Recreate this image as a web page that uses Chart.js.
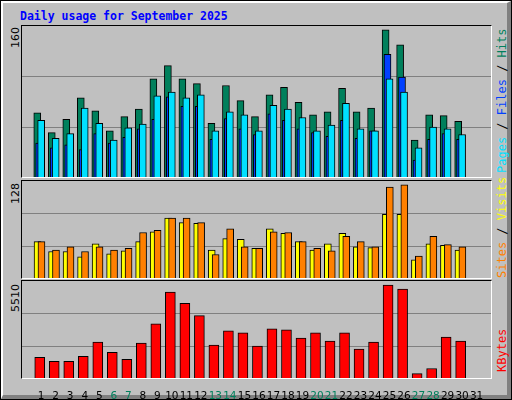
<!DOCTYPE html>
<html><head><meta charset="utf-8">
<script src="https://cdn.jsdelivr.net/npm/chart.js@4"></script>
<style>
body{margin:0;background:#fff;}
#wrap{position:absolute;left:0;top:0;width:510px;height:398px;background:#C0C0C0;border:1px solid #000;}
#wrap:before{content:"";position:absolute;left:0;top:0;right:0;bottom:0;border-top:2px solid #fff;border-left:2px solid #fff;border-right:4px solid #808080;border-bottom:4px solid #808080;}
.title{position:absolute;left:19px;top:8px;font:bold 11.5px "DejaVu Sans Mono",monospace;color:#0000FF;}
.pan{position:absolute;left:20px;width:471px;border-top:1px solid #000;border-left:1px solid #000;border-right:1px solid #fff;border-bottom:1px solid #fff;box-sizing:border-box;}
canvas{position:absolute;}
.rot{position:absolute;transform-origin:0 0;transform:rotate(-90deg);font:12px "DejaVu Sans Mono",monospace;white-space:nowrap;}
.lab{font:11px "DejaVu Sans",sans-serif;}
</style></head><body>
<div id="wrap">
<div class="title">Daily usage for September 2025</div>
<div class="pan" style="top:24px;height:153px"></div>
<div class="pan" style="top:179px;height:99px"></div>
<div class="pan" style="top:279px;height:99px"></div>
<canvas id="c1" style="left:21px;top:25px;width:469px;height:151px"></canvas>
<canvas id="c2" style="left:21px;top:180px;width:469px;height:97px"></canvas>
<canvas id="c3" style="left:21px;top:280px;width:469px;height:118px"></canvas>
<div class="rot lab" style="left:8px;top:47px">160</div>
<div class="rot lab" style="left:8px;top:203px">128</div>
<div class="rot lab" style="left:8px;top:311px">5510</div>
<div class="rot" style="left:494px;top:172px"><span style="color:#00E0FF">Pages</span> / <span style="color:#0040FF">Files</span> / <span style="color:#00805C">Hits</span></div>
<div class="rot" style="left:494px;top:277px"><span style="color:#FF8000">Sites</span> / <span style="color:#FFFF00">Visits</span></div>
<div class="rot" style="left:494px;top:371px"><span style="color:#FF0000">KBytes</span></div>
</div>
<script>
const days = Array.from({length:31},(_,i)=>i+1);
const weekend = [6,7,13,14,20,21,27,28];
const hits  = [68,47,61,84,70,49,64,72,104,118,104,99,57,97,81,64,87,95,79,66,69,94,69,73,156,140,39,66,65,59,0];
const files = [36,31,34,29,46,36,42,51,61,85,75,75,40,62,51,45,67,60,51,47,43,60,41,49,130,106,18,40,46,40,0];
const pages = [60,41,46,73,57,39,52,56,86,90,84,87,49,69,66,49,76,72,63,49,55,78,51,49,104,90,31,53,51,45,0];
const visits= [48,35,35,28,45,32,36,48,61,79,73,72,37,52,51,39,65,59,48,37,45,59,41,40,84,84,24,45,43,37,0];
const sites = [48,37,41,35,41,37,39,60,63,79,79,73,31,65,41,39,61,60,48,39,36,55,48,41,120,123,29,55,44,41,0];
const kbytes= [1175,944,944,1233,2042,1464,1060,1984,3083,4874,4239,3545,1869,2678,2562,1811,2793,2736,2273,2562,2100,2562,1638,2042,5279,5048,250,539,2331,2100,0];
const maxTop=160, maxMid=128, maxBot=5510;

const XMIN=0.2, XMAX=31.47;
function pts(arr,off){return arr.map((v,i)=>({x:days[i]+off,y:v}));}
function ds(arr,off,color,w,order){return {data:pts(arr,off),backgroundColor:color,borderColor:'#000',borderWidth:1,borderSkipped:'bottom',barThickness:w,grouped:false,order:order};}
const gridPlugin={id:'g',beforeDatasetsDraw(ch){
  const y=ch.scales.y,a=ch.chartArea,ctx=ch.ctx;ctx.save();ctx.strokeStyle='#808080';ctx.lineWidth=1;
  [y.max/3,2*y.max/3].forEach(v=>{const p=Math.round(y.getPixelForValue(v))+0.5;ctx.beginPath();ctx.moveTo(a.left,p);ctx.lineTo(a.right,p);ctx.stroke();});
  ctx.restore();}};
function opts(max,showX){
 const x={type:'linear',min:XMIN,max:XMAX,display:showX,
      grid:{display:false},border:{display:false},
      afterBuildTicks:s=>{s.ticks=days.map(d=>({value:d}));},
      ticks:{autoSkip:false,maxRotation:0,padding:4,font:{family:'DejaVu Sans',size:10.5},
        color:c=>weekend.includes(c.tick.value)?'#00805C':'#000',callback:v=>String(v)}};
 if(showX) x.afterFit=s=>{s.height=21;};
 return {responsive:false,animation:false,devicePixelRatio:1,
  layout:{padding:0},
  plugins:{legend:{display:false},tooltip:{enabled:false}},
  scales:{x,y:{min:0,max:max,display:false}}};
}
function mk(id,w,h,datasets,max,showX){
 const c=document.getElementById(id);c.width=w;c.height=h;
 new Chart(c,{type:'bar',data:{datasets},options:opts(max,showX),plugins:[gridPlugin]});
}
mk('c1',469,151,[ds(pages,0.0,'#00E0FF',7,0),ds(files,-0.14,'#0040FF',7,1),ds(hits,-0.27,'#00805C',7,2)],maxTop,false);
mk('c2',469,97,[ds(sites,0.02,'#FF8000',7,0),ds(visits,-0.25,'#FFFF00',7,1)],maxMid,false);
mk('c3',469,118,[ds(kbytes,-0.1,'#FF0000',10,0)],maxBot,true);
</script></body></html>
